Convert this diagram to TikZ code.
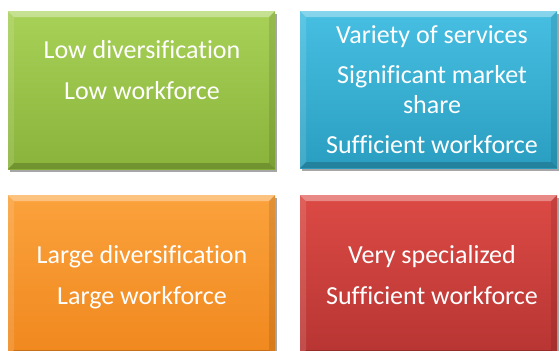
\documentclass[tikz,border=0pt]{standalone}
\usepackage{fontspec}
\setmainfont{Carlito}[Ligatures=NoCommon]
\usetikzlibrary{shadows,calc}
\definecolor{gtop}{HTML}{A8D158}
\definecolor{gbot}{HTML}{89B33A}
\definecolor{btop}{HTML}{47BFE2}
\definecolor{bbot}{HTML}{2A9EC0}
\definecolor{otop}{HTML}{FBA23C}
\definecolor{obot}{HTML}{F0881E}
\definecolor{rtop}{HTML}{DC4A45}
\definecolor{rbot}{HTML}{B73533}
\tikzset{
  card/.style={rectangle, inner sep=0pt, outer sep=0pt, draw=none,
    drop shadow={shadow xshift=2pt, shadow yshift=-3pt, opacity=0.35, fill=black}},
  lbl/.style={text=white, font=\fontsize{26}{30}\selectfont, anchor=base, inner sep=0pt},
}
\newcommand\bev[1]{%
  \fill[white,opacity=.35] (#1.north west) -- (#1.north east) -- ($(#1.north east)+(-6,6)$) -- ($(#1.north west)+(6,6)$) -- cycle;
  \fill[white,opacity=.12] (#1.north west) -- ($(#1.north west)+(6,6)$) -- ($(#1.south west)+(6,-6)$) -- (#1.south west) -- cycle;
  \fill[black,opacity=.10] (#1.north east) -- ($(#1.north east)+(-6,6)$) -- ($(#1.south east)+(-6,-6)$) -- (#1.south east) -- cycle;
  \fill[black,opacity=.18] (#1.south west) -- ($(#1.south west)+(6,-6)$) -- ($(#1.south east)+(-6,-6)$) -- (#1.south east) -- cycle;
}
\begin{document}
\begin{tikzpicture}[x=1pt,y=-1pt]
\useasboundingbox[fill=white] (0,0) rectangle (560,351);
\node[card, minimum width=267pt, minimum height=158pt, top color=gtop, bottom color=gbot] (green) at (141.5,90) {};
\node[card, minimum width=257pt, minimum height=157pt, top color=btop, bottom color=bbot] (blue) at (428.5,89.5) {};
\node[card, minimum width=267pt, minimum height=161pt, top color=otop, bottom color=obot] (orange) at (141.5,275.5) {};
\node[card, minimum width=257pt, minimum height=161pt, top color=rtop, bottom color=rbot] (red) at (428.5,275.5) {};
\bev{green}\bev{blue}\bev{orange}\bev{red}
\node[lbl] (g1) at (142,58) {Low diversification};
\node[lbl] (g2) at (142,99) {Low workforce};
\node[lbl] (b1) at (432,43) {Variety of services};
\node[lbl] (b2) at (432,83) {Significant market};
\node[lbl] (b3) at (432,113) {share};
\node[lbl] (b4) at (432,153) {Sufficient workforce};
\node[lbl] (o1) at (142,263) {Large diversification};
\node[lbl] (o2) at (142,304) {Large workforce};
\node[lbl] (r1) at (432,263) {Very specialized};
\node[lbl] (r2) at (432,304) {Sufficient workforce};
\end{tikzpicture}
\end{document}
